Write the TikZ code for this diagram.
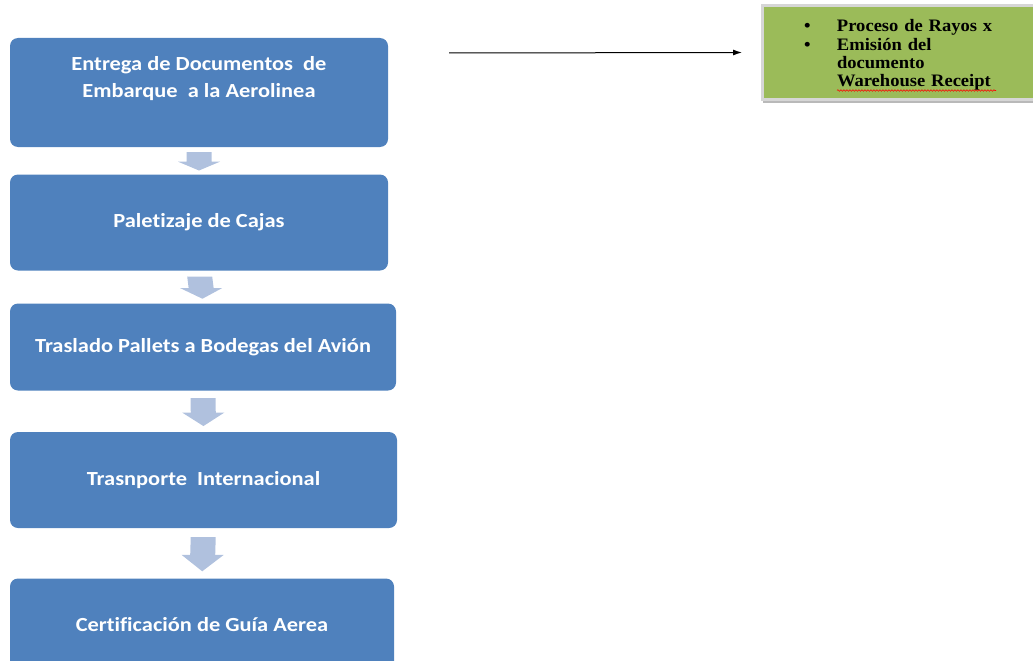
\documentclass[tikz,border=0pt]{standalone}
\usepackage{fontspec}
\setmainfont{Liberation Serif}[FakeStretch=1.06]
\newfontfamily\boxfont{Carlito}[FakeStretch=1.12, Ligatures=NoCommon]
\usetikzlibrary{calc,decorations.pathmorphing,arrows.meta}
\definecolor{boxblue}{RGB}{79,129,189}
\definecolor{arrowfill}{RGB}{176,193,222}
\definecolor{notegreen}{RGB}{155,187,89}
\definecolor{noteframe}{RGB}{214,214,214}
\begin{document}
\begin{tikzpicture}[x=1pt,y=-1pt,
  stepbox/.style={fill=boxblue, rounded corners=8pt, inner sep=0pt, text=white,
    font=\boxfont\bfseries\fontsize{20}{27}\selectfont, align=center},
  boxlabel/.style={text=white, font=\boxfont\bfseries\fontsize{20}{27}\selectfont, align=center},
  notebox/.style={fill=notegreen, draw=noteframe, line width=3pt, inner xsep=0pt,
    text width=194pt, minimum width=277pt, minimum height=93pt, align=left,
    font=\bfseries\fontsize{17.5}{18.3}\selectfont},
  blockarrow/.style={fill=arrowfill},
  link/.style={line width=1pt, -{Latex[length=9pt,width=6pt]}}
]
\useasboundingbox (0,0) rectangle (1033,661);

% process steps
\node[stepbox, minimum width=378pt, minimum height=109pt,
  label={[boxlabel, yshift=14pt]center:{Entrega de Documentos\ \ de\\Embarque\ \ a la Aerolinea}}]
  (b1) at (199,92.5) {};
\node[stepbox, minimum width=378pt, minimum height=96pt] (b2) at (199,222.5) {Paletizaje de Cajas};
\node[stepbox, minimum width=386pt, minimum height=87pt] (b3) at (203,347) {Traslado Pallets a Bodegas del Avi\'on};
\node[stepbox, minimum width=387pt, minimum height=96pt] (b4) at (203.5,480) {Trasnporte\ \ Internacional};
\node[stepbox, minimum width=384pt, minimum height=92pt] (b5) at (202,624.5) {Certificaci\'on de Gu\'ia Aerea};

% block arrows between steps
\foreach \a/\b in {b1/b2,b2/b3,b3/b4,b4/b5}{
  \coordinate (T) at ($(\a.south)!0.18!(\b.north)$);
  \coordinate (B) at ($(\a.south)!0.86!(\b.north)$);
  \coordinate (M) at ($(T)!0.52!(B)$);
  \fill[blockarrow] ($(T)+(-12.5,0)$) -- ($(M)+(-12.5,0)$) -- ($(M)+(-21,0)$) -- (B)
    -- ($(M)+(21,0)$) -- ($(M)+(12.5,0)$) -- ($(T)+(12.5,0)$) -- cycle;
}

% note box
\fill[gray!55] (763,99) rectangle (1040,103);
\node[notebox] (g) at (901,52.5) {%
  \raisebox{-3pt}[\height][\depth]{%
  \begin{tabular}{@{}p{33pt}@{}l@{}}
  \textbullet & Proceso de Rayos x\\
  \textbullet & Emisi\'on del\\
   & documento\\
   & Warehouse Receipt
  \end{tabular}}};
\draw[red, line width=0.6pt, decorate, decoration={snake, amplitude=0.8pt, segment length=3pt}]
  (837,90.5) -- (996,90.5);

% connector
\coordinate (s) at (449,53);
\draw[link] (s) -- ($(g.west)+(-19,0)$);
\end{tikzpicture}
\end{document}
